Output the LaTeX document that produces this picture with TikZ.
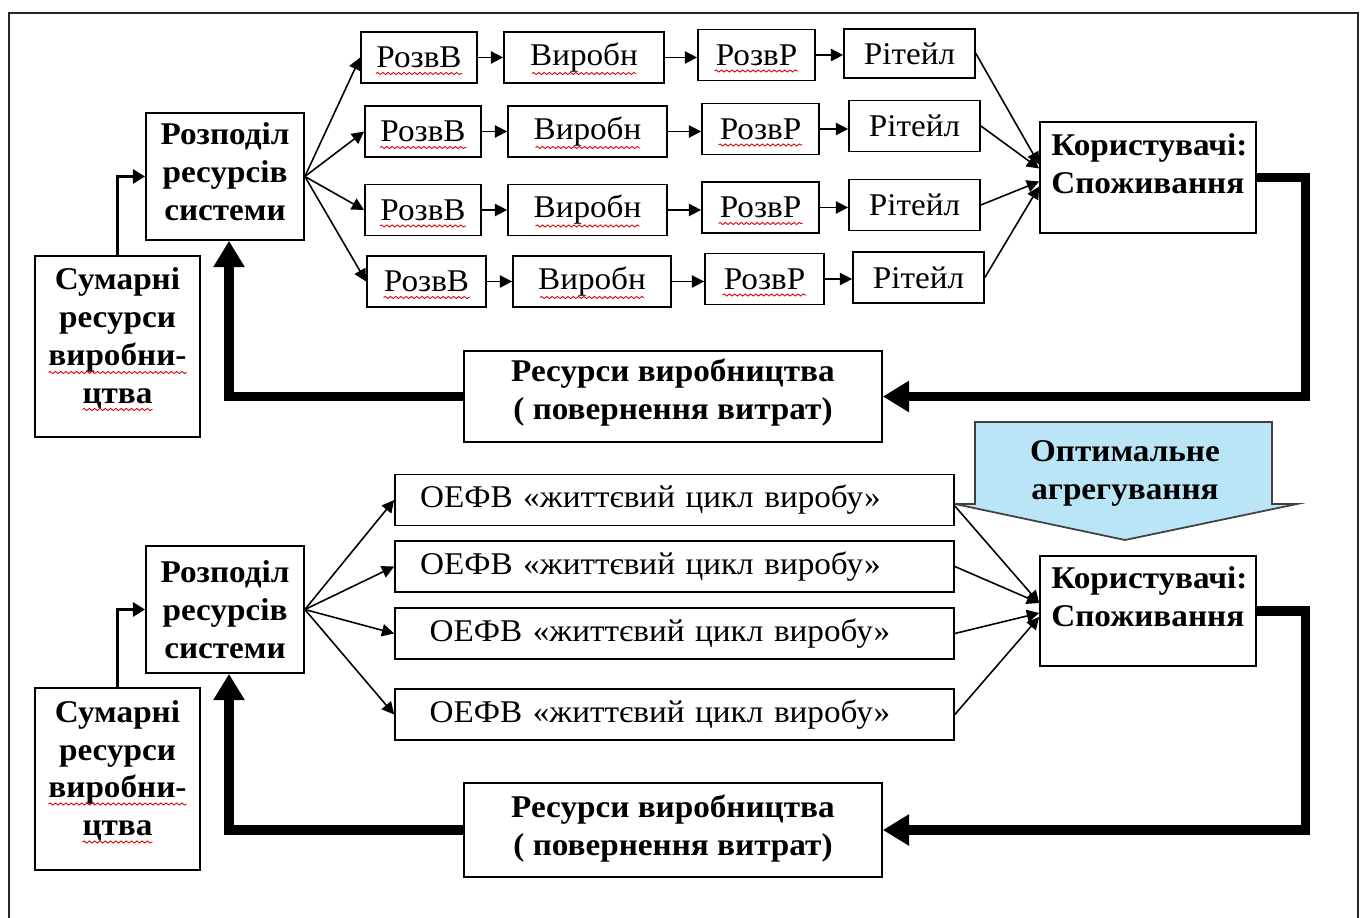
\documentclass[tikz,border=0pt]{standalone}
\usepackage{fontspec}
\setmainfont{Liberation Serif}[FakeStretch=1.05]
\usetikzlibrary{arrows.meta, calc, decorations.pathmorphing}
\definecolor{aggblue}{HTML}{B9E5F7}
\newcommand{\boxfont}{\fontsize{18pt}{21.6pt}\selectfont}
\newcommand{\lift}[1]{\rule[-#1]{0pt}{0pt}}
\tikzset{
	defaultbox/.style={
			draw=black,
			line width=1pt,
			fill=white,
			inner sep=0pt,
			font=\boxfont,
			align=center
		},
	boldbox/.style={
			defaultbox,
			font=\boxfont\bfseries
		},
	smallbox/.style={
			defaultbox,
			minimum height=1.02cm
		},
	oebox/.style={
			defaultbox,
			minimum height=1.02cm,
			text width=10.18cm,
			inner xsep=0.5cm,
			align=left
		},
	sumbox/.style={
			boldbox,
			minimum width=3.3cm,
			minimum height=3.62cm
		},
	distbox/.style={
			boldbox,
			minimum width=3.16cm,
			minimum height=2.54cm
		},
	userbox/.style={
			defaultbox,
			minimum width=4.32cm,
			minimum height=2.22cm
		},
	usertext/.style={
			font=\boxfont\bfseries,
			align=left,
			anchor=north west,
			inner sep=0pt
		},
	resbox/.style={
			boldbox,
			minimum width=8.36cm,
			minimum height=1.84cm
		},
	thinarrow/.style={
			line width=0.9pt,
			-{Triangle[width=7pt,length=7pt]}
		},
	midarrow/.style={
			line width=2pt,
			-{Triangle[width=8pt,length=7pt]}
		},
	fatarrow/.style={
			line width=5.2pt,
			-{Triangle[width=17pt,length=15pt]}
		},
	aggshape/.style={
			draw=black!75,
			line width=1pt,
			fill=aggblue
		},
	spellline/.style={
			draw=red!85!black,
			line width=0.5pt,
			decorate,
			decoration={snake, amplitude=0.6pt, segment length=3pt}
		},
	spell/.style={
			append after command={($(\tikzlastnode.center)+(-#1/2,16)$) edge[spellline] ++(#1,0)}
		}
}

\begin{document}
\begin{tikzpicture}[x=0.02cm, y=-0.02cm]
\useasboundingbox (0,0) rectangle (1364,918);
\draw[line width=1.5pt, black!85] (9,918) -- (9,13) -- (1358,13) -- (1358,918);

\node[sumbox] (s1) at (117.5,346.5) {Сумарні\\ресурси\\виробни-\\цтва\lift{12.5pt}};
\node[distbox] (d1) at (225,176.5) {Розподіл\\ресурсів\\системи\lift{6pt}};

\node[smallbox, minimum width=2.32cm, spell=86] (rv1) at (419,57.5) {РозвВ};
\node[smallbox, minimum width=2.32cm, spell=86] (rv2) at (423,131.5) {РозвВ};
\node[smallbox, minimum width=2.32cm, spell=86] (rv3) at (423,210) {РозвВ};
\node[smallbox, minimum width=2.38cm, spell=86] (rv4) at (426.5,281.5) {РозвВ};

\node[smallbox, minimum width=3.2cm, spell=104] (vb1) at (584,57.5) {Виробн};
\node[smallbox, minimum width=3.18cm, spell=104] (vb2) at (587.5,131.5) {Виробн};
\node[smallbox, minimum width=3.18cm, spell=104] (vb3) at (587.5,210) {Виробн};
\node[smallbox, minimum width=3.16cm, spell=104] (vb4) at (592,281.5) {Виробн};

\node[smallbox, minimum width=2.34cm, spell=84] (rr1) at (756.5,55) {РозвР};
\node[smallbox, minimum width=2.34cm, spell=84] (rr2) at (760.5,129) {РозвР};
\node[smallbox, minimum width=2.34cm, spell=84] (rr3) at (760.5,207.5) {РозвР};
\node[smallbox, minimum width=2.38cm, spell=84] (rr4) at (764.5,279) {РозвР};

\node[smallbox, minimum width=2.62cm, minimum height=0.98cm] (rt1) at (909.5,53.5) {Рітейл};
\node[smallbox, minimum width=2.62cm] (rt2) at (914.5,126) {Рітейл};
\node[smallbox, minimum width=2.62cm] (rt3) at (914.5,205) {Рітейл};
\node[smallbox, minimum width=2.62cm] (rt4) at (918.5,277.5) {Рітейл};

\node[userbox] (u1) at (1148,177.5) {};
\node[usertext] (u1t) at (1051,133) {Користувачі:\\Споживання};
\node[resbox, minimum height=1.82cm] (r1) at (673,396.5) {Ресурси виробництва\\( повернення витрат)\lift{8.5pt}};

\draw[spellline] ($(s1.center)+(-69,26)$) -- ++(138,0);
\draw[spellline] ($(s1.center)+(-35,63)$) -- ++(70,0);

\draw[midarrow] (s1.north) |- (d1.west);
\draw[thinarrow] (d1.east) -- (rv1.west);
\draw[thinarrow] (d1.east) -- (rv2.west);
\draw[thinarrow] (d1.east) -- (rv3.west);
\draw[thinarrow] (d1.east) -- (rv4.west);

\draw[thinarrow] (rv1.east) -- (vb1.west);
\draw[thinarrow] (vb1.east) -- (vb1.east -| rr1.west);
\draw[thinarrow] (rr1.east) -- (rr1.east -| rt1.west);
\draw[thinarrow] (rv2.east) -- (vb2.west);
\draw[thinarrow] (vb2.east) -- (vb2.east -| rr2.west);
\draw[thinarrow] (rr2.east) -- (rr2.east -| rt2.west);
\draw[thinarrow] (rv3.east) -- (vb3.west);
\draw[thinarrow] (vb3.east) -- (vb3.east -| rr3.west);
\draw[thinarrow] (rr3.east) -- (rr3.east -| rt3.west);
\draw[thinarrow] (rv4.east) -- (vb4.west);
\draw[thinarrow] (vb4.east) -- (vb4.east -| rr4.west);
\draw[thinarrow] (rr4.east) -- (rr4.east -| rt4.west);

\draw[thinarrow] (rt1.east) -- ($(u1.west)+(0,-13)$);
\draw[thinarrow] (rt2.east) -- ($(u1.west)+(0,-9)$);
\draw[thinarrow] (rt3.east) -- ($(u1.west)+(0,4)$);
\draw[thinarrow] (rt4.east) -- ($(u1.west)+(0,9)$);

\draw[fatarrow] (u1.east) -- ++(49,0) |- (r1.east);
\draw[fatarrow] (r1.west) -| ([xshift=0.08cm]d1.south);

\draw[aggshape] (955,504) -- (975,504) -- (975,422) -- (1272,422) -- (1272,504) -- (1297,504) -- (1125,540) -- cycle;
\node[font=\boxfont\bfseries, align=center] (agg) at (1125,473) {Оптимальне\\агрегування};

\node[sumbox, minimum height=3.64cm] (s2) at (117.5,779) {Сумарні\\ресурси\\виробни-\\цтва\lift{12.5pt}};
\node[distbox] (d2) at (225,609.5) {Розподіл\\ресурсів\\системи};

\node[oebox] (oe1) at (674.5,500) {ОЕФВ «життєвий цикл виробу»};
\node[oebox] (oe2) at (674.5,566.5) {ОЕФВ «життєвий цикл виробу»};
\node[oebox] (oe3) at (674.5,633.5) {\hspace*{5.5pt}ОЕФВ «життєвий цикл виробу»};
\node[oebox] (oe4) at (674.5,714.5) {\hspace*{5.5pt}ОЕФВ «життєвий цикл виробу»};

\node[userbox, minimum height=2.2cm] (u2) at (1148,611) {};
\node[usertext] (u2t) at (1051,566) {Користувачі:\\Споживання};
\node[resbox, minimum height=1.88cm] (r2) at (673,830) {Ресурси виробництва\\( повернення витрат)\lift{6pt}};

\draw[spellline] ($(s2.center)+(-69,25)$) -- ++(138,0);
\draw[spellline] ($(s2.center)+(-35,63)$) -- ++(70,0);

\draw[midarrow] (s2.north) |- (d2.west);
\draw[thinarrow] (d2.east) -- (oe1.west);
\draw[thinarrow] (d2.east) -- (oe2.west);
\draw[thinarrow] (d2.east) -- (oe3.west);
\draw[thinarrow] (d2.east) -- (oe4.west);

\draw[thinarrow] ($(oe1.east)+(0,6)$) -- ($(u2.west)+(0,-8)$);
\draw[thinarrow] (oe2.east) -- ($(u2.west)+(0,-8)$);
\draw[thinarrow] (oe3.east) -- ($(u2.west)+(0,2)$);
\draw[thinarrow] (oe4.east) -- ($(u2.west)+(0,6)$);

\draw[fatarrow] (u2.east) -- ++(49,0) |- (r2.east);
\draw[fatarrow] (r2.west) -| ([xshift=0.08cm]d2.south);
\end{tikzpicture}
\end{document}
